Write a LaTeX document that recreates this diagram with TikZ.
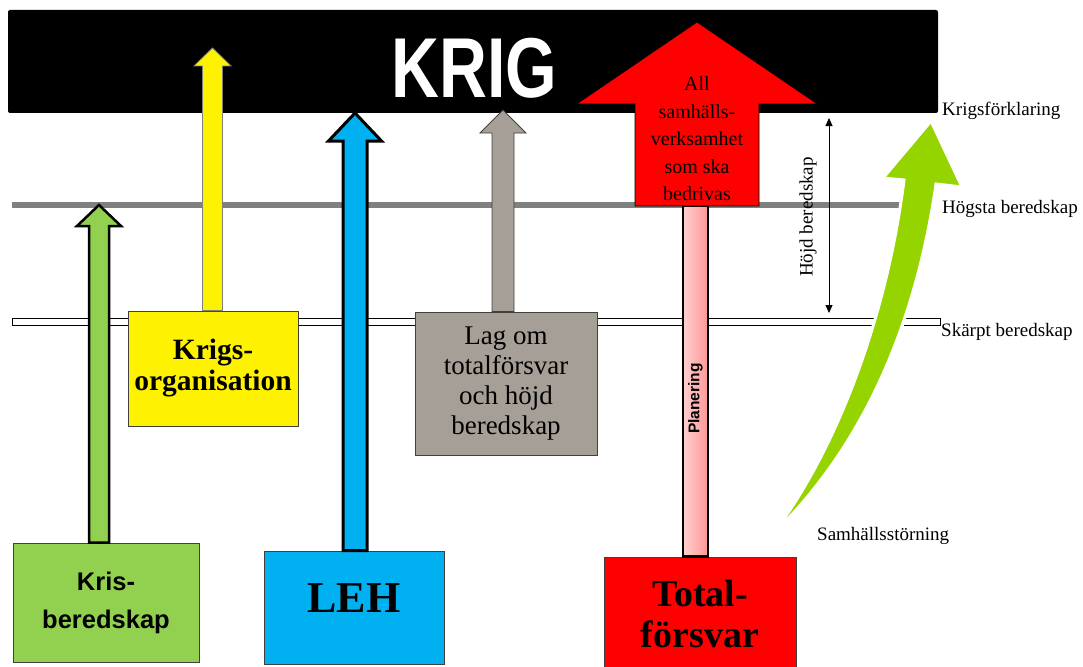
\documentclass[tikz,border=0pt]{standalone}
\usepackage{fontspec}
\setmainfont{Liberation Serif}
\setsansfont{Liberation Sans}
\usetikzlibrary{arrows.meta,calc}
\tikzset{>={Triangle[width=7pt,length=8pt]}}
\definecolor{krisgreen}{HTML}{92D050}
\definecolor{lehblue}{HTML}{00B0F0}
\definecolor{laggray}{RGB}{166,159,151}
\definecolor{limegreen}{RGB}{150,212,0}
\definecolor{pinkL}{RGB}{255,208,208}
\definecolor{pinkR}{RGB}{255,150,150}
\tikzset{
  box/.style={draw=black!75, line width=0.8pt, align=center, inner sep=0pt},
  side/.style={font=\fontsize{19}{22}\selectfont, anchor=base west, inner sep=0pt},
}

\begin{document}
\begin{tikzpicture}[x=1pt,y=-1pt]

  % block arrow: style, foot, tip, half shaft, half head, head length
  \newcommand\blockup[6]{%
    \draw[#1] let \p1=(#2), \p2=(#3) in
      (\x2-#4pt,\y1) -- (\x2-#4pt,\y2-#6pt) -- (\x2-#5pt,\y2-#6pt) -- (\p2)
      -- (\x2+#5pt,\y2-#6pt) -- (\x2+#4pt,\y2-#6pt) -- (\x2+#4pt,\y1) -- cycle;}

  \useasboundingbox (0,0) rectangle (1083,666);

  % bar on top
  \fill[rounded corners=2pt] (8,10) rectangle (938,113);
  \node[anchor=base, text=white, font=\sffamily\bfseries\fontsize{85}{90}\selectfont] (krig) at (474.5,98) {\scalebox{0.78}[1]{KRIG}};

  % levels
  \fill[black!50] (12,202) rectangle (900,208);
  \draw[fill=white, line width=0.6pt] (12,318) rectangle (940,325);

  % boxes
  \node[box, fill=krisgreen, minimum width=186pt, minimum height=119pt, font=\sffamily\bfseries\fontsize{25.5}{38}\selectfont] (kris) at (106,602.5) {Kris-\\beredskap};
  \node[box, fill=yellow, minimum width=170pt, minimum height=115pt, font=\bfseries\fontsize{29.5}{31}\selectfont] (krigsorg) at (213,368.5) {Krigs-\\organisation};
  \node[box, fill=lehblue, minimum width=180pt, minimum height=113pt, text depth=19pt, font=\bfseries\fontsize{44}{50}\selectfont] (leh) at (354,607.5) {LEH};
  \node[box, fill=laggray, minimum width=182pt, minimum height=143pt, font=\fontsize{27}{30}\selectfont] (lag) at (506,383.5) {Lag om\\totalförsvar\\och höjd\\beredskap};
  \node[box, fill=red, minimum width=192pt, minimum height=114pt, font=\bfseries\fontsize{38}{41}\selectfont] (total) at (700,614) {Total-\\försvar};

  % arrow tips
  \coordinate (krisTip) at (99,205);
  \coordinate (orgTip) at (212.5,48);
  \coordinate (lehTip) at (355,113);
  \coordinate (lagTip) at (503,110);
  \coordinate (allTip) at (697,22);
  \coordinate (allFoot) at (697,206);

  \blockup{fill=krisgreen, draw=black, line width=2.5pt}{kris.north}{krisTip}{10}{22}{21}
  \blockup{fill=yellow, draw=black!50, line width=0.8pt}{krigsorg.north}{orgTip}{10}{18.5}{18}
  \blockup{fill=lehblue, draw=black, line width=3pt}{leh.north}{lehTip}{12}{26.5}{28}
  \blockup{fill=laggray, draw=black!75, line width=0.8pt}{lag.north}{lagTip}{11}{23}{23}

  % Planering
  \draw[left color=pinkL, right color=pinkR, draw=black, line width=2.5pt] (683,0 |- total.north) rectangle (708,0 |- allFoot);
  \node[rotate=90, font=\sffamily\bfseries\fontsize{15.5}{18}\selectfont] (plan) at (695.5,398.5) {Planering};

  \blockup{fill=red, draw=black, line width=0.8pt}{allFoot}{allTip}{62}{120.5}{82}
  \node[align=center, font=\fontsize{20}{27.5}\selectfont] (allText) at (697,139) {All\\samhälls-\\verksamhet\\som ska\\bedrivas};

  % hojd beredskap
  \coordinate (hbTop) at (829,118);
  \coordinate (hbBot) at (829,313);
  \draw[<->, line width=0.8pt] (hbTop) -- (hbBot);
  \node[rotate=90, font=\fontsize{19}{22}\selectfont] (hbText) at (808,217) {Höjd beredskap};

  % growing arrow
  \coordinate (stoerTail) at (772,535);
  \coordinate (krigTip) at (931,121);
  \filldraw[fill=limegreen, draw=white, line width=3pt]
    (stoerTail) .. controls (830,460) and (885,330) .. (904,180)
    -- (883,178) -- (krigTip) -- (962,187) -- (936,184)
    .. controls (915,330) and (860,450) .. (stoerTail) -- cycle;

  % levels, right side
  \node[side] (kf) at (942,115) {Krigsförklaring};
  \node[side] (hogsta) at (942,213) {Högsta beredskap};
  \node[side] (skarpt) at (941,336) {Skärpt beredskap};
  \node[side] (samh) at (817,540) {Samhällsstörning};

\end{tikzpicture}
\end{document}
